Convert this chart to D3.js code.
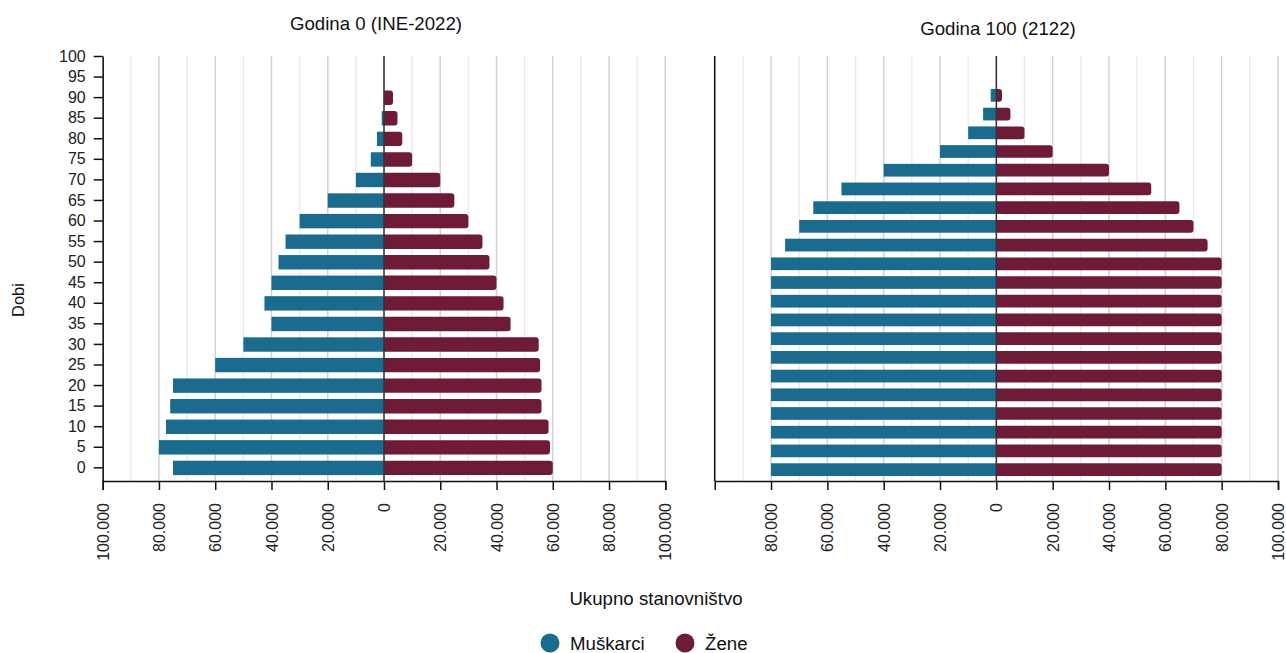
<!DOCTYPE html>
<html>
<head>
<meta charset="utf-8">
<script src="https://cdn.jsdelivr.net/npm/d3@7"></script>
<style>
  html, body { margin: 0; padding: 0; background: #fff; }
  svg { display: block; font-family: "Liberation Sans", Arial, sans-serif; }
</style>
</head>
<body>
<svg id="chart" width="1286" height="653"></svg>
<script>
// ---------- data ----------
const ageGroups = [0, 5, 10, 15, 20, 25, 30, 35, 40, 45, 50, 55, 60, 65, 70, 75, 80, 85, 90, 95, 100];
const male2022   = [75000, 80000, 77500, 76000, 75000, 60000, 50000, 40000, 42500, 40000, 37500, 35000, 30000, 20000, 10000, 4700, 2500, 800, 0, 0, 0];
const female2022 = [60000, 59000, 58500, 56000, 56000, 55500, 55000, 45000, 42500, 40000, 37500, 35000, 30000, 25000, 20000, 10000, 6500, 4800, 3200, 0, 0];
const male2122   = [80000, 80000, 80000, 80000, 80000, 80000, 80000, 80000, 80000, 80000, 80000, 80000, 75000, 70000, 65000, 55000, 40000, 20000, 10000, 4700, 2000];
const female2122 = [80000, 80000, 80000, 80000, 80000, 80000, 80000, 80000, 80000, 80000, 80000, 80000, 75000, 70000, 65000, 55000, 40000, 20000, 10000, 5000, 2000];
const xTicksLeft  = [-100000, -80000, -60000, -40000, -20000, 0, 20000, 40000, 60000, 80000, 100000];
const xTicksRight = [-80000, -60000, -40000, -20000, 0, 20000, 40000, 60000, 80000, 100000];
const gridValues  = [-100000, -90000, -80000, -70000, -60000, -50000, -40000, -30000, -20000, -10000, 0,
                     10000, 20000, 30000, 40000, 50000, 60000, 70000, 80000, 90000, 100000];
const titles = ["Godina 0 (INE-2022)", "Godina 100 (2122)"];
const seriesNames = ["Muškarci", "Žene"];
const colors = ["#1b6b8e", "#6e1b3a"];

// ---------- setup ----------
const svg = d3.select("#chart");
const fmt = d3.formatLocale({decimal: ",", thousands: ".", grouping: [3], currency: ["", ""]}).format(",");
const TOP = 56, BOTTOM = 481;

function roundedRight(x0, y0, w, h, r) {
  r = Math.min(r, w, h / 2);
  if (w <= 0) return "";
  return `M${x0},${y0}H${x0 + w - r}Q${x0 + w},${y0} ${x0 + w},${y0 + r}V${y0 + h - r}Q${x0 + w},${y0 + h} ${x0 + w - r},${y0 + h}H${x0}Z`;
}

function drawPanel(opts) {
  const x = d3.scaleLinear().domain([-100000, 100000]).range(opts.xRange);
  const g = svg.append("g");

  // grid
  g.selectAll("line.grid").data(gridValues).join("line")
    .attr("x1", d => x(d)).attr("x2", d => x(d))
    .attr("y1", TOP).attr("y2", BOTTOM)
    .attr("stroke", d => (d % 20000 === 0) ? "#d2d2d2" : "#ebebeb")
    .attr("stroke-width", 1.5);

  // male bars
  g.selectAll("rect.m").data(ageGroups.map((a, i) => ({a, v: opts.male[i]}))).join("rect")
    .attr("x", d => x(-d.v)).attr("width", d => x(0) - x(-d.v))
    .attr("y", d => opts.yTop(d.a)).attr("height", opts.bh)
    .attr("fill", colors[0]);

  // female bars (rounded right end)
  g.selectAll("path.f").data(ageGroups.map((a, i) => ({a, v: opts.female[i]}))).join("path")
    .attr("d", d => roundedRight(x(0), opts.yTop(d.a), x(d.v) - x(0), opts.bh, 3))
    .attr("fill", colors[1]);

  // zero line
  g.append("line").attr("x1", x(0)).attr("x2", x(0)).attr("y1", TOP).attr("y2", BOTTOM)
    .attr("stroke", "#333").attr("stroke-width", 1.5);

  // x axis
  const ax = g.append("g").attr("transform", `translate(0,${BOTTOM})`)
    .call(d3.axisBottom(x).tickValues(opts.xTicks).tickSize(9).tickSizeOuter(9).tickFormat(d => fmt(Math.abs(d))));
  ax.select(".domain").attr("stroke", "#111").attr("stroke-width", 1.5);
  ax.selectAll(".tick line").attr("stroke", "#111").attr("stroke-width", 1.5);
  ax.selectAll(".tick text")
    .attr("font-size", 16).attr("fill", "#222")
    .attr("transform", "rotate(-90)")
    .attr("text-anchor", "end")
    .attr("x", -22).attr("y", 0).attr("dy", "0.35em");

  // title
  svg.append("text").attr("x", opts.titleX).attr("y", opts.titleY)
    .attr("text-anchor", "middle").attr("font-size", 18.67).attr("fill", "#111")
    .text(opts.title);
  return x;
}

// left panel
const yLeft = d3.scaleLinear().domain([-3.33, 100]).range([BOTTOM, TOP]);
const bhL = 14.4;
drawPanel({
  xRange: [102.7, 665.3], male: male2022, female: female2022,
  yTop: a => yLeft(a) - bhL / 2 + 0.6, bh: bhL, xTicks: xTicksLeft,
  title: titles[0], titleX: 376, titleY: 30
});
const ay = svg.append("g").attr("transform", "translate(102.7,0)")
  .call(d3.axisLeft(yLeft).tickValues(ageGroups).tickSize(9).tickSizeOuter(0).tickPadding(8));
ay.select(".domain").attr("stroke", "#111").attr("stroke-width", 1.5);
ay.selectAll(".tick line").attr("stroke", "#111").attr("stroke-width", 1.5);
ay.selectAll(".tick text").attr("font-size", 16).attr("fill", "#222");

// right panel
const yRight = d3.scaleBand().domain(ageGroups).range([BOTTOM, 84]).paddingInner(0.32).paddingOuter(0.267);
drawPanel({
  xRange: [714.7, 1278], male: male2122, female: female2122,
  yTop: a => yRight(a), bh: yRight.bandwidth(), xTicks: xTicksRight,
  title: titles[1], titleX: 998, titleY: 35
});
svg.append("line").attr("x1", 714.7).attr("x2", 714.7).attr("y1", TOP).attr("y2", BOTTOM)
  .attr("stroke", "#111").attr("stroke-width", 1.5);

// axis titles
svg.append("text").attr("transform", "translate(24,300) rotate(-90)")
  .attr("text-anchor", "middle").attr("font-size", 16.5).attr("fill", "#111").text("Dobi");
svg.append("text").attr("x", 656).attr("y", 605)
  .attr("text-anchor", "middle").attr("font-size", 18.67).attr("fill", "#111").text("Ukupno stanovništvo");

// legend
const legendX = [550, 685];
const lg = svg.append("g");
seriesNames.forEach((name, i) => {
  lg.append("circle").attr("cx", legendX[i]).attr("cy", 643).attr("r", 9.5).attr("fill", colors[i]);
  lg.append("text").attr("x", legendX[i] + 20).attr("y", 650)
    .attr("font-size", 18.67).attr("fill", "#111").text(name);
});
</script>
</body>
</html>
